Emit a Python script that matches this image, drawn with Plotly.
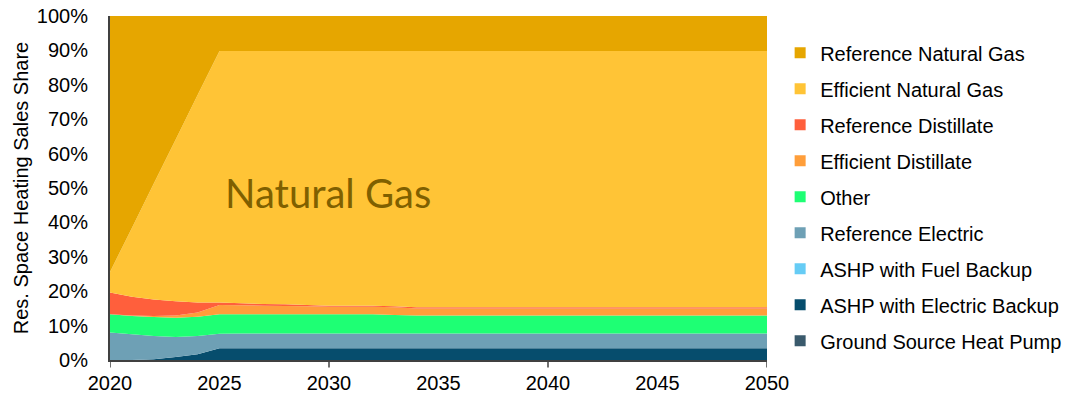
import plotly.graph_objects as go

years = list(range(2020, 2051))

gshp = [0.0] * 31
ashp_elec = [0.0, 0.0, 0.2, 0.9, 1.7, 3.4] + [3.4] * 25
ashp_fuel = [0.0] * 31
ref_elec = [8.0, 7.5, 6.8, 5.8, 5.3, 4.2] + [4.3] * 25
other = [5.3, 5.3, 5.5, 5.6, 5.6, 5.7, 5.6, 5.6, 5.6, 5.6, 5.6, 5.6, 5.6, 5.4] + [5.2] * 17
eff_dist = [0.0, 0.1, 0.3, 0.6, 1.2, 2.7, 2.6, 2.5, 2.4, 2.3, 2.2, 2.2, 2.2, 2.2] + [2.1] * 17
ref_dist = [6.3, 5.5, 4.8, 4.2, 2.9, 0.7, 0.6, 0.5, 0.5, 0.4] + [0.3] * 21
eff_ng = [6.0, 20.0, 33.7, 47.0, 60.3, 73.1, 73.3, 73.5, 73.6, 73.8, 74.0, 74.0, 74.0, 74.2] + [74.5] * 17
ref_ng = [74.4, 61.6, 48.7, 35.9, 23.0] + [10.2] * 26

tick_years = [2020, 2025, 2030, 2035, 2040, 2045, 2050]
major_tick_years = [2020, 2030, 2040, 2050]

series = [
    ("Ground Source Heat Pump", gshp, "#3A5A6C"),
    ("ASHP with Electric Backup", ashp_elec, "#064D6D"),
    ("ASHP with Fuel Backup", ashp_fuel, "#66CCF5"),
    ("Reference Electric", ref_elec, "#6EA0B5"),
    ("Other", other, "#1EFF74"),
    ("Efficient Distillate", eff_dist, "#FF9E3A"),
    ("Reference Distillate", ref_dist, "#FF5F3C"),
    ("Efficient Natural Gas", eff_ng, "#FFC436"),
    ("Reference Natural Gas", ref_ng, "#E6A600"),
]

fig = go.Figure()
for name, vals, col in series:
    fig.add_trace(go.Scatter(
        x=years, y=[v / 100 for v in vals], name=name, stackgroup="one",
        mode="none", fillcolor=col, showlegend=False, hoverinfo="x+y+name"))

# legend entries with square markers (top to bottom)
for name, vals, col in reversed(series):
    fig.add_trace(go.Scatter(
        x=[None], y=[None], name=name, mode="markers",
        marker=dict(symbol="square", size=11, color=col), legendgroup=name,
        showlegend=True))

fig.add_annotation(x=2025.15, y=0.485, xref="x", yref="y", text="Natural Gas",
                   showarrow=False, xanchor="left", yanchor="middle",
                   font=dict(family="Lato, Open Sans, sans-serif", size=40, color="#7F6000"))

# tick marks every 10 years below the axis
for yr in major_tick_years:
    fig.add_shape(type="line", xref="x", yref="paper", x0=yr, x1=yr, y0=0, y1=-0.022,
                  line=dict(color="#404040", width=1.5))

font = "Liberation Sans, Arial, sans-serif"
fig.update_layout(
    width=1071, height=402,
    margin=dict(l=110, r=304, t=16, b=42, autoexpand=False),
    paper_bgcolor="white", plot_bgcolor="white",
    font=dict(family=font, size=20, color="#000000"),
    showlegend=True,
    legend=dict(x=1.020, y=0.95, xanchor="left", yanchor="top",
                traceorder="grouped", tracegroupgap=7,
                font=dict(family=font, size=20, color="#000000"),
                itemwidth=30, bgcolor="rgba(0,0,0,0)"),
    xaxis=dict(range=[2020, 2050], tickvals=tick_years,
               ticktext=[str(y) for y in tick_years],
               ticks="", showline=True, linecolor="#404040", linewidth=2,
               showgrid=False, zeroline=False, tickfont=dict(size=20),
               automargin=False, ticklabelstandoff=4, ticklabeloverflow="allow"),
    yaxis=dict(range=[0, 1], tickformat=".0%", dtick=0.1, showline=True,
               linecolor="#404040", linewidth=2, showgrid=False, zeroline=False,
               ticks="", automargin=False, ticklabelstandoff=16, ticklabeloverflow="allow",
               title=dict(text="Res. Space Heating Sales Share", font=dict(size=20), standoff=3),
               tickfont=dict(size=20)),
)

fig.write_html("out.html", config={"displayModeBar": False},
               post_script="document.body.style.margin='0px';document.body.style.overflow='hidden';")
